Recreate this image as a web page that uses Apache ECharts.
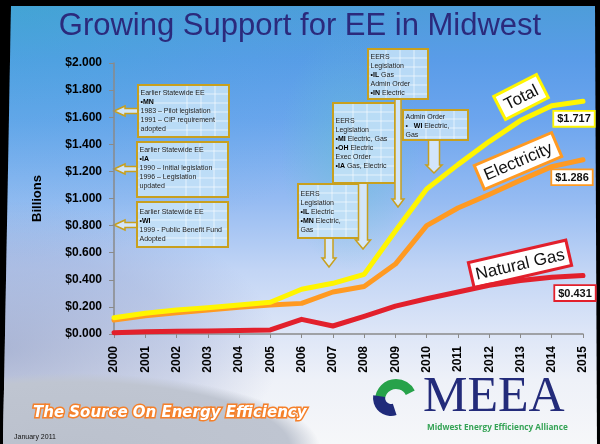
<!DOCTYPE html>
<html><head><meta charset="utf-8">
<script src="https://cdn.jsdelivr.net/npm/echarts@6/dist/echarts.min.js"></script>
<style>
html,body{margin:0;padding:0;background:#000;}
#wrap{position:relative;width:600px;height:444px;background:#000;overflow:hidden;}
#slide{position:absolute;left:0;top:0;width:600px;height:444px;
clip-path:polygon(11px 6px,595px 6px,597px 444px,3px 444px);
background:
 radial-gradient(ellipse 250px 75px at 70px 448px, #BBC1CD 0%, #BFC5D1 88%, rgba(190,196,208,0) 100%),
 radial-gradient(ellipse 280px 150px at 0px 350px, rgba(115,130,178,0.5) 0%, rgba(135,150,198,0.32) 65%, rgba(150,170,210,0) 100%),
 radial-gradient(ellipse 70px 120px at 350px 150px, rgba(95,195,205,0.45) 0%, rgba(95,195,205,0) 100%),
 radial-gradient(ellipse 420px 260px at 0px 0px, rgba(50,175,205,0.4) 0%, rgba(60,170,215,0.15) 60%, rgba(80,150,240,0) 100%),
 linear-gradient(180deg, #4C9DD8 0px, #5A9CE8 60px, #6CA5EE 120px, #95BBF2 200px, #C2D5F5 270px, #DCE5F7 330px, #EEF1F8 380px, #F6F7F9 444px);
background-repeat:no-repeat;}
#chart{position:absolute;left:0;top:0;width:600px;height:444px;}
</style></head>
<body><div id="wrap"><div id="slide"></div><div id="chart"></div></div>
<script>
// ---------- data ----------
const years = ['2000','2001','2002','2003','2004','2005','2006','2007','2008','2009','2010','2011','2012','2013','2014','2015'];
const yTickLabels = ['$0.000','$0.200','$0.400','$0.600','$0.800','$1.000','$1.200','$1.400','$1.600','$1.800','$2.000'];
const total       = [0.120,0.153,0.177,0.194,0.214,0.234,0.330,0.374,0.440,0.760,1.070,1.250,1.420,1.575,1.685,1.717];
const electricity = [0.103,0.135,0.157,0.177,0.197,0.214,0.226,0.310,0.350,0.516,0.800,0.930,1.030,1.135,1.235,1.286];
const naturalGas  = [0.010,0.017,0.020,0.022,0.025,0.030,0.108,0.059,0.130,0.206,0.260,0.310,0.360,0.395,0.418,0.431];
const seriesNames = ['Total','Electricity','Natural Gas'];
const titleText = 'Growing Support for EE in Midwest';
const axisName = 'Billions';
const calloutTexts = [
  ['Earlier Statewide EE','{b|•MN}','1983 – Pilot legislation','1991 – CIP requirement','adopted'],
  ['Earlier Statewide EE','{b|•IA}','1990 – Initial legislation','1996 – Legislation','updated'],
  ['Earlier Statewide EE','{b|•WI}','1999 - Public Benefit Fund','Adopted'],
  ['EERS','Legislation','{b|•IL} Electric','{b|•MN} Electric,','Gas'],
  ['EERS','Legislation','{b|•MI} Electric, Gas','{b|•OH} Electric','Exec Order','{b|•IA} Gas, Electric'],
  ['EERS','Legislation','{b|•IL} Gas','Admin Order','{b|•IN} Electric'],
  ['Admin Order','•   {b|WI} Electric,','Gas']
];

// ---------- layout / styles ----------
const colors = {Total:'#FFF500', Electricity:'#FF9A22', 'Natural Gas':'#E2202C'};
const gold = '#C8A01E';
const calloutLayout = [
  {x:138,y:85,w:91,h:52,ty:89,arrow:{dir:'left',tip:114,at:111}},
  {x:137,y:142,w:91,h:55,ty:146,arrow:{dir:'left',tip:114,at:169}},
  {x:137,y:202,w:91,h:45,ty:208,arrow:{dir:'left',tip:114,at:225}},
  {x:298,y:184,w:62,h:54,ty:190,arrow:{dir:'down',cx:329,tip:267,sh:4,hh:7,hl:9}},
  {x:333,y:103,w:62,h:80,ty:117,arrow:{dir:'down',cx:363,tip:249,sh:4.5,hh:7.5,hl:9}},
  {x:368,y:49,w:60,h:50,ty:53,arrow:{dir:'down',cx:398,tip:207,sh:3,hh:6,hl:8}},
  {x:403,y:110,w:65,h:30,ty:113,arrow:{dir:'down',cx:434,tip:173,sh:5.5,hh:8,hl:8}}
];
const nameBoxes = [
  {name:'Total', x:521, y:97, w:48, h:26, rot:27},
  {name:'Electricity', x:518, y:161, w:84, h:26, rot:23},
  {name:'Natural Gas', x:520, y:264, w:100, h:26, rot:13}
];
const endOffsets = {Total:[-9,5], Electricity:[-11,5], 'Natural Gas':[-8,5]};

function callout(texts, L){
  const els = [];
  const fill = 'rgba(200,228,248,0.85)';
  const a = L.arrow;
  let pts;
  if (a.dir === 'left'){
    const hl=11, hh=5, sh=2.4, cy=a.at, tx=a.tip;
    pts=[[tx,cy],[tx+hl,cy-hh],[tx+hl,cy-sh],[L.x,cy-sh],[L.x,cy+sh],[tx+hl,cy+sh],[tx+hl,cy+hh]];
  } else {
    const cx=a.cx, ty=a.tip, top=L.y+L.h;
    pts=[[cx,ty],[cx-a.hh,ty-a.hl],[cx-a.sh,ty-a.hl],[cx-a.sh,top],[cx+a.sh,top],[cx+a.sh,ty-a.hl],[cx+a.hh,ty-a.hl]];
  }
  els.push({type:'polygon', shape:{points:pts}, style:{fill:'rgba(215,232,250,0.95)', stroke:gold, lineWidth:1.5}});
  els.push({type:'rect', shape:{x:L.x,y:L.y,width:L.w,height:L.h}, style:{fill:fill, stroke:null}});
  for (let yy=L.y+9; yy<L.y+L.h-2; yy+=9){
    els.push({type:'line', shape:{x1:L.x,y1:yy,x2:L.x+L.w,y2:yy}, style:{stroke:'rgba(255,255,255,0.75)', lineWidth:0.8}});
  }
  for (let k=1;k<=3;k++){
    const xx=L.x+L.w-k*14;
    if (xx>L.x+4) els.push({type:'line', shape:{x1:xx,y1:L.y,x2:xx,y2:L.y+L.h}, style:{stroke:'rgba(255,255,255,0.75)', lineWidth:0.8}});
  }
  els.push({type:'rect', shape:{x:L.x,y:L.y,width:L.w,height:L.h}, style:{fill:null, stroke:gold, lineWidth:2}});
  els.push({type:'text', style:{text:texts.join('\n'), x:L.x+2.5, y:L.ty, verticalAlign:'top', align:'left',
    fontSize:7, fontFamily:'Liberation Sans', fill:'#1c1c1c', lineHeight:9,
    rich:{b:{fontSize:7, fontWeight:'bold', fontFamily:'Liberation Sans', fill:'#000', lineHeight:9}}}});
  return els;
}

const graphics = [];
calloutTexts.forEach((t,i)=>{ graphics.push(...callout(t, calloutLayout[i])); });
nameBoxes.forEach(b=>{
  graphics.push({type:'group', x:b.x, y:b.y, rotation:b.rot*Math.PI/180, z:20, children:[
    {type:'rect', shape:{x:-b.w/2,y:-b.h/2,width:b.w,height:b.h}, style:{fill:'#fff', stroke:colors[b.name], lineWidth:3}},
    {type:'text', style:{text:b.name, x:0, y:1, align:'center', verticalAlign:'middle', fontSize:17, fontFamily:'Liberation Sans', fill:'#111'}}
  ]});
});
graphics.push({type:'text', style:{text:'The Source On Energy Efficiency', x:33, y:413, verticalAlign:'middle',
  fontSize:15, fontWeight:'bold', fontStyle:'italic', fontFamily:'DejaVu Sans', fill:'#fff',
  stroke:'#F5802A', lineWidth:3, shadowColor:'#FF7A1A', shadowBlur:8}});
graphics.push({type:'text', style:{text:'January 2011', x:14, y:437, verticalAlign:'middle', fontSize:7, fontFamily:'Liberation Sans', fill:'#111'}});
graphics.push({type:'sector', shape:{cx:396,cy:400,r:21,r0:11,startAngle:Math.PI,endAngle:Math.PI*1.85,clockwise:true}, style:{fill:'#27A24A'}});
graphics.push({type:'sector', shape:{cx:391,cy:398,r:18,r0:6,startAngle:Math.PI*0.4,endAngle:Math.PI*1.05,clockwise:true}, style:{fill:'#1F2A7A'}});
graphics.push({type:'text', style:{text:'MEEA', x:423, y:398, verticalAlign:'middle', fontSize:50, fontFamily:'Liberation Serif', fill:'#232B7A'}});
graphics.push({type:'text', style:{text:'Midwest Energy Efficiency Alliance', x:427, y:428, verticalAlign:'middle', fontSize:8.2, fontWeight:'bold', fontFamily:'Open Sans', fill:'#35A356'}});

function lineSeries(name, arr, z){
  const c = colors[name];
  return {name:name, type:'line', data:arr.map((v,i)=> i===arr.length-1 ? {value:v, label:{show:true}} : v),
    symbol:'circle', symbolSize:1, showSymbol:true, z:z, smooth:false,
    lineStyle:{color:c, width:5, cap:'round', join:'round'}, itemStyle:{color:c},
    label:{show:false, position:'bottom', offset:endOffsets[name], formatter:p=>'$'+p.value.toFixed(3),
      backgroundColor:'#fff', borderColor:c, borderWidth:1.8, padding:[2,3,1,3],
      fontSize:11, fontWeight:'bold', color:'#111', fontFamily:'Liberation Sans'}};
}

const chart = echarts.init(document.getElementById('chart'), null, {renderer:'canvas'});
chart.setOption({
  animation:false,
  title:{text:titleText, left:'center', top:6, textStyle:{fontSize:31, fontWeight:'normal', color:'#2B2A7C', fontFamily:'Liberation Sans'}},
  grid:{left:114, right:17, top:63, bottom:110},
  xAxis:{type:'category', data:years, boundaryGap:false,
    axisLine:{lineStyle:{color:'#8a8a8a', width:1.5}},
    axisTick:{show:true, length:4, lineStyle:{color:'#8a8a8a'}},
    axisLabel:{rotate:90, margin:12, interval:0, fontSize:12, fontWeight:'bold', color:'#000', fontFamily:'Liberation Sans'},
    splitLine:{show:false}},
  yAxis:{type:'value', min:0, max:2, interval:0.2, name:axisName, nameLocation:'middle', nameRotate:90, nameGap:70,
    nameTextStyle:{fontSize:13, fontWeight:'bold', color:'#000', fontFamily:'Liberation Sans'},
    axisLine:{show:true, lineStyle:{color:'#8a8a8a', width:1.5}},
    axisTick:{show:true, length:5, lineStyle:{color:'#8a8a8a'}},
    axisLabel:{formatter:(v,i)=>yTickLabels[i], margin:12, fontSize:12, fontWeight:'bold', color:'#000', fontFamily:'Liberation Sans'},
    splitLine:{show:false}},
  series:[
    lineSeries('Natural Gas', naturalGas, 3),
    lineSeries('Electricity', electricity, 4),
    lineSeries('Total', total, 5)
  ],
  graphic:graphics
});
</script></body></html>
